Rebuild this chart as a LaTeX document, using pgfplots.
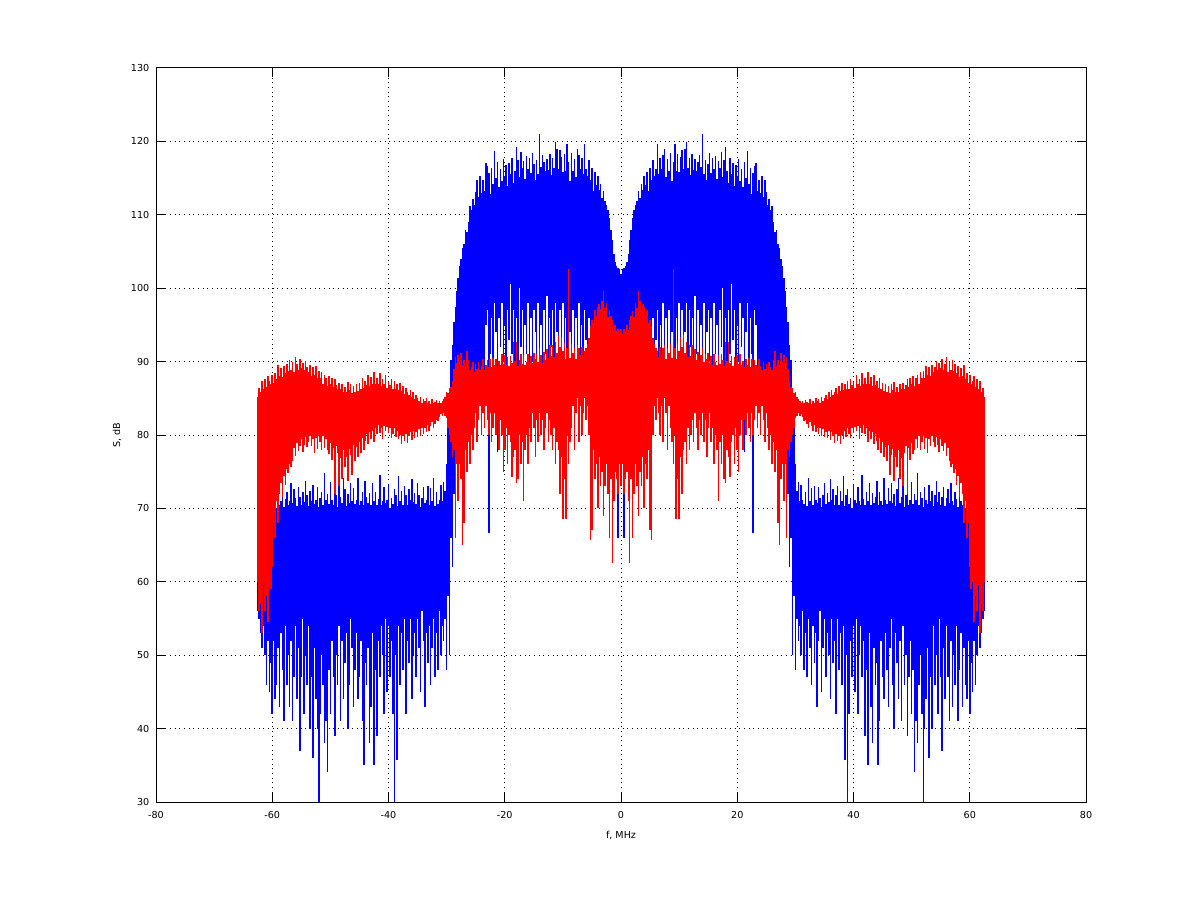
\documentclass[border=0pt]{standalone}
\usepackage{pgfplots}
\usepackage{pgfplotstable}
\pgfplotsset{compat=1.18}
\usepackage{fontspec}
\setmainfont{DejaVu Sans}
\pgfplotstableread{
x hi lo
0 102 88
.25 102.6 87
.5 102.7 66
.75 103 86
1 103.6 88
1.25 104.6 86
1.5 106.6 87
1.75 107.9 85
2 109.6 88
2.25 110.6 86
2.5 111.4 87
2.75 111.9 85
3 113.2 88
3.25 112.3 86
3.5 114.2 87
3.75 113.4 85
4 115.3 88
4.25 114.1 86
4.5 115.8 87
4.75 113.2 85
5 116.4 90
5.25 114.7 87
5.5 117.4 96
5.75 115.3 88
6 116.2 93
6.25 119.6 97
6.5 115.6 89
6.75 117.7 95
7 116.2 90
7.25 118.2 98
7.5 119 88
7.75 115.1 96
8 117.6 91
8.25 116 97
8.5 118.4 88
8.75 114.6 94
9 117.2 99
9.25 119.7 90
9.5 116 96
9.75 118.3 88
10 115.8 98
10.25 117.9 92
10.5 118.8 97
10.75 116.3 87
11 119 94
11.25 119.9 98
11.5 116.4 89
11.75 117.7 97
12 115.4 92
12.25 118.3 96
12.5 116.1 88
12.75 117.6 99
13 115.9 91
13.25 117.2 97
13.5 118.1 88
13.75 116.5 95
14 121 90
14.25 115.6 98
14.5 117.4 87
14.75 114.8 94
15 116.9 97
15.25 118.4 90
15.5 115.7 96
15.75 117.8 84
16 116.2 98
16.25 118 91
16.5 114.9 95
16.75 117.3 88
17 116.4 97
17.25 118.6 92
17.5 115.2 100
17.75 117.4 75.5
18 119.3 96
18.25 116 89
18.5 114.4 97
18.75 117.7 91
19 115.6 100.6
19.25 117.1 93
19.5 113.9 97
19.75 116.8 88
20 115.3 95
20.25 117.6 90
20.5 114.6 98
20.75 116.2 92
21 113.8 96
21.25 117.2 77.7
21.5 115 94
21.75 118.7 98
22 114.2 88
22.25 116.4 96
22.5 112.9 91
22.75 115.7 66.6
23 116.6 97
23.25 117 95
23.5 113.2 88
23.75 114.8 86
24 113 88
24.25 115.3 84
24.5 112.4 87
24.75 114.8 85
25 113.1 86
25.25 111.4 88
25.5 112.2 84
25.75 110.6 87
26 111.2 80
26.25 109 85
26.5 107.6 82
26.75 107.9 86
27 106 80
27.25 105.5 84
27.5 104 79
27.75 103 83
28 101.4 76
28.25 99.6 79
28.5 97.5 70
28.75 95.4 72
29 92.3 62
29.25 90.2 66
29.5 86.4 50
29.75 81 58
30 76 48
30.25 72.4 55
30.5 73.6 52
30.75 71 54
31 73.2 50
31.25 71.2 56
31.5 70.6 48
31.75 72.2 53
32 70.3 47
32.25 74.1 55
32.5 71 51
32.75 72.8 46
33 70.4 54
33.25 73 49
33.5 71.2 53
33.75 70.8 43
34 72.9 52
34.25 71.4 56
34.5 70.2 45
34.75 71.8 51
35 73.5 55
35.25 70.6 47
35.5 72.1 53
35.75 70.9 50
36 74 44
36.25 71.2 55
36.5 72.6 49
36.75 70.4 52
37 71.8 42
37.25 73.1 55
37.5 70.5 48
37.75 72.4 53
38 71 46
38.25 74.4 54
38.5 70.3 35.7
38.75 71.8 50
39 72.7 30
39.25 70.6 42
39.5 71.4 52
39.75 70 47
40 73.3 54
40.25 71.2 45
40.5 70.7 55
40.75 72.9 42
41 71 50
41.25 70.4 54
41.5 74.6 47
41.75 71.3 52
42 70.5 39
42.25 72.2 48
42.5 71 35
42.75 73.5 53
43 70.4 43
43.25 72.1 38
43.5 70.8 51
43.75 71.6 46
44 73.7 49
44.25 70.5 35
44.5 72.2 41
44.75 71 52
45 70.4 47
45.25 74.2 44
45.5 71.2 53
45.75 70.6 48
46 72.8 43
46.25 71 51
46.5 73.4 55
46.75 70.7 46
47 71.9 40
47.25 70.3 53
47.5 72.6 49
47.75 74.2 44
48 70.8 52
48.25 71.5 41
48.5 73 54
48.75 70.2 46
49 71.8 50
49.25 72.9 39
49.5 70.4 47
49.75 71.2 52
50 73.6 42
50.25 70.6 48
50.5 72 34.1
50.75 71.2 41
51 74.8 38
51.25 70.5 46
51.5 72.3 50
51.75 71.4 42
52 70.2 30
52.25 72.9 40
52.5 71.1 44
52.75 70.6 51
53 73.2 36
53.25 71 47
53.5 72.4 40
53.75 70.3 54
54 71.8 46
54.25 73.7 50
54.5 70.9 42
54.75 72.2 55
55 70.5 47
55.25 71.6 37
55.5 72.9 51
55.75 70.3 44
56 71.4 54
56.25 72.6 47
56.5 70.8 41
56.75 73.4 52
57 71 43
57.25 70.4 50
57.5 72.2 46
57.75 71.3 54
58 70.2 41
58.25 73 48
58.5 71 53
58.75 70.4 43
59 71.5 51
59.25 70 46
59.5 68.9 44
59.75 68 52
60 68.6 42
60.25 68.2 49
60.5 67.8 45
60.75 68.4 52
61 68 46
61.25 67.6 50
61.5 68.2 54
61.75 67.8 51
62 68.3 53
62.25 68 55
62.5 67 56
}\bluedata
\pgfplotstableread{
x hi lo
0 94.4 73
.25 93.8 76
.5 94.5 72
.75 94.2 74
1 95 75
1.25 94.3 71
1.5 95.7 62.5
1.75 96.2 74
2 96.9 66
2.25 96.1 72
2.5 98 76
2.75 97.3 73
3 99.6 69
3.25 98.2 75
3.5 97.1 73
3.75 97.9 77
4 97.5 70
4.25 96.2 76
4.5 97 74
4.75 95.3 78
5 95.6 67
5.25 94.9 65.7
5.5 93.2 80
5.75 92.4 84
6 91.8 82
6.25 91.4 85
6.5 90.6 83
6.75 92 80
7 90.9 84
7.25 91.8 79
7.5 92.3 85
7.75 90.4 83
8 91.9 78
8.25 91.2 84
8.5 92.4 81
8.75 90.5 79
9 102.6 76
9.25 91.8 80
9.5 90.4 68.6
9.75 92.6 74
10 91.4 68.5
10.25 93.3 77
10.5 92 72
10.75 93.6 78
11 91.2 79
11.25 92.7 76
11.5 90.6 81
11.75 92.3 78
12 90.8 80
12.25 92.3 82
12.5 90.5 79
12.75 91.7 83
13 90.2 81
13.25 91.3 78
13.5 89.8 82
13.75 90.9 80
14 91.8 83
14.25 89.9 79
14.5 91 82
14.75 90.3 77
15 91.2 81
15.25 89.8 83
15.5 90.7 79
15.75 89.6 81
16 91 76
16.25 90 80
16.5 89.5 78
16.75 90.9 71
17 89.7 79
17.25 91 76
17.5 90.2 80
17.75 89.4 74
18 92.7 73.4
18.25 90.1 78
18.5 92.7 77
18.75 89.8 74.3
19 90.8 79
19.25 89.4 80
19.5 90.6 76
19.75 89.5 81
20 90.9 78
20.25 89.7 75
20.5 91 80
20.75 89.6 82
21 90.1 78
21.25 89.2 82
21.5 90.3 80
21.75 89.6 83
22 90.5 81
22.25 89.3 79
22.5 90.4 83
22.75 89.2 80
23 90.2 82
23.25 89.5 84
23.5 88.8 81
23.75 90.3 83
24 89.4 80
24.25 88.9 84
24.5 90 82
24.75 89 79
25 89.7 83
25.25 88.6 81
25.5 90 78
25.75 89.2 80
26 88.8 76
26.25 90.2 79
26.5 91.4 75
26.75 89.4 78
27 90.2 68
27.25 89.5 65
27.5 91.2 74
27.75 90 76
28 90.9 71
28.25 89.8 76
28.5 90.6 66
28.75 89 78
29 87.3 77
29.25 86.6 79
29.5 86.4 80
29.75 85.7 81
30 85.9 82.3
30.25 85.2 82.6
30.5 84.9 83
30.75 84.6 82.6
31 84.4 82.8
31.25 84.6 82.4
31.5 84.3 81.9
31.75 84.8 82.1
32 84.5 81.5
32.25 84.4 81
32.5 84.9 81.8
32.75 84.2 81.2
33 84.7 80.6
33.25 84.4 81.4
33.5 85 80.4
33.75 84.6 81
34 84.9 80.2
34.25 84.3 80.9
34.5 85.2 79.8
34.75 84.6 80.8
35 85 79.7
35.25 85.5 80.4
35.5 84.9 79.6
35.75 85.9 80.6
36 85.2 79.3
36.25 86.1 80.4
36.5 85.4 79.8
36.75 85.9 78.9
37 86.4 80.2
37.25 85.6 79.2
37.5 86.7 79.9
37.75 86 78.8
38 87.1 80
38.25 86.1 79.4
38.5 86.9 80.5
38.75 86.3 79.7
39 87.4 80.9
39.25 86.2 80.1
39.5 87.6 79.6
39.75 86.8 81
40 87.2 80.3
40.25 86.4 81.1
40.5 88.2 80.6
40.75 86.9 81.2
41 87.6 79.5
41.25 86.7 81
41.5 88.4 80.3
41.75 87 81.3
42 87.7 80.1
42.25 87 80.9
42.5 88.6 79
42.75 86.9 80.6
43 87.9 79.4
43.25 86.7 80.4
43.5 88.2 78.8
43.75 86.8 80.2
44 87.3 79.2
44.25 86.4 78
44.5 87.8 79.6
44.75 86.2 77.6
45 87.1 79
45.25 86 77
45.5 86.9 78.4
45.75 85.8 76.5
46 86.7 78.6
46.25 85.7 74.5
46.5 87 77.3
46.75 86.1 78.1
47 87.2 73.8
47.25 85.9 77
47.5 86.6 75.6
47.75 85.8 78
48 87 74
48.25 86.2 76.8
48.5 87.1 73
48.75 86.3 77.6
49 86.8 78.5
49.25 87.6 72
49.5 86.5 78.2
49.75 87.8 76.6
50 86.9 78.9
50.25 88 77.4
50.5 86.7 78
50.75 87.7 79.5
51 88.2 78.2
51.25 86.9 79.8
51.5 88.6 77.9
51.75 87.8 79.1
52 88.7 79.8
52.25 87.7 78.1
52.5 89.4 79.6
52.75 88.2 77.6
53 89.2 79.5
53.25 88.1 78.5
53.5 89.6 79.9
53.75 88.6 79.1
54 89.3 78.4
54.25 90.1 79.7
54.5 88.8 78.7
54.75 89.8 77.7
55 89.1 79.4
55.25 90.4 78.5
55.5 88.9 77.8
55.75 89.7 78.9
56 90.6 77.1
56.25 88.6 78.2
56.5 89.9 76.4
56.75 88.8 75.6
57 90.2 76.1
57.25 88.7 74.8
57.5 89.7 75.4
57.75 88.4 73.2
58 89.4 74.4
58.25 87.9 71.5
58.5 89.1 73.4
58.75 88 72
59 89.6 68
59.25 87.6 71
59.5 88.4 66
59.75 87.1 68
60 88.2 62
60.25 86.9 59
60.5 87.3 60
60.75 88 54.5
61 86.5 58
61.25 87.6 56
61.5 86.2 59.5
61.75 87.4 53
62 85.8 57
62.25 86.4 56
62.5 85.2 60
}\reddata
\begin{document}
\begin{tikzpicture}[x=1pt,y=1pt]
\useasboundingbox (0,0) rectangle (900,675.75);
\pgfplotsset{
  spectrum/.style={no marks, draw=none, forget plot,
    error bars/.cd, y dir=minus, y explicit, error mark=none,
    error bar style={color=#1, line width=1.15pt, solid}},
}
\begin{axis}[
  at={(117pt,74.25pt)}, anchor=south west,
  scale only axis, width=697.5pt, height=550.5pt,
  xmin=-80, xmax=80, ymin=30, ymax=130,
  xtick={-80,-60,...,80}, ytick={30,40,...,130},
  axis line style={line width=.75pt},
  tick style={black, line width=.75pt},
  major tick length=7pt, tick align=inside,
  xtick pos=both, ytick pos=both,
  grid=major,
  grid style={black, line width=.75pt, dash pattern=on .75pt off 2.75pt},
  tick label style={font=\fontsize{7.2}{9}\selectfont},
  xticklabel style={yshift=-3.5pt},
  yticklabel style={xshift=-1.5pt},
  /pgf/number format/assume math mode=true,
  xlabel={f, MHz}, ylabel={S, dB},
  label style={font=\fontsize{7.2}{9}\selectfont},
  xlabel style={yshift=-2.5pt},
  ylabel style={yshift=.5pt},
]
\addplot[spectrum=blue] table[x expr=-\thisrow{x}, y=hi, y error expr=\thisrow{hi}-\thisrow{lo}] {\bluedata};
\addplot[spectrum=blue] table[x=x, y=hi, y error expr=\thisrow{hi}-\thisrow{lo}] {\bluedata};
\addplot[spectrum=red] table[x expr=-\thisrow{x}, y=hi, y error expr=\thisrow{hi}-\thisrow{lo}] {\reddata};
\addplot[spectrum=red] table[x=x, y=hi, y error expr=\thisrow{hi}-\thisrow{lo}] {\reddata};
\end{axis}
\end{tikzpicture}
\end{document}
